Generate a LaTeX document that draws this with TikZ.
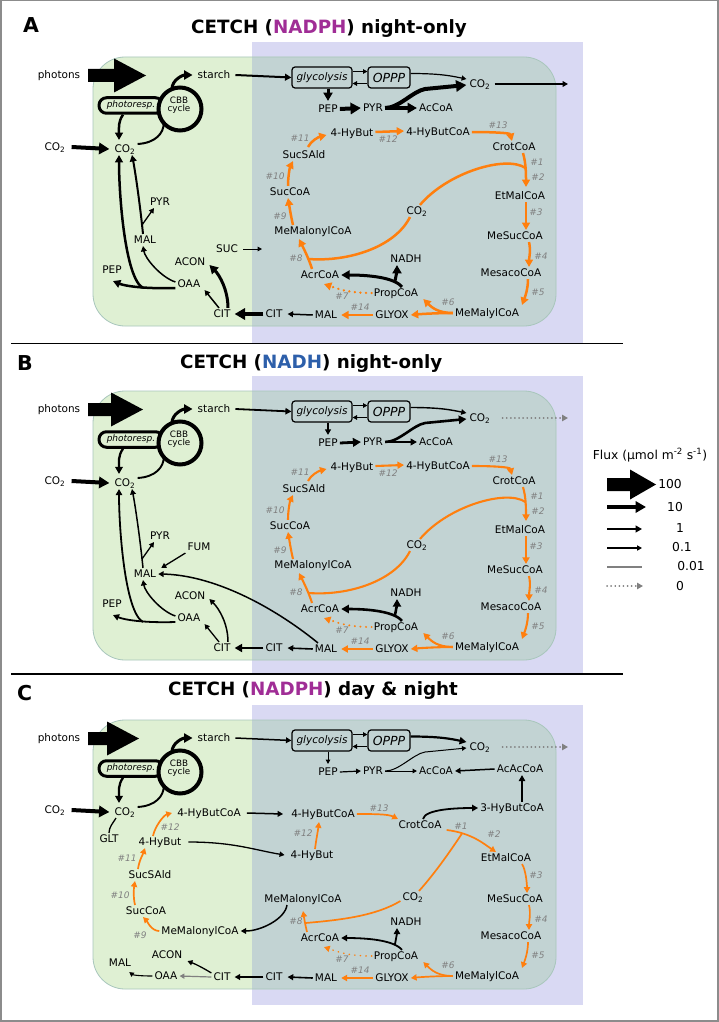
\documentclass[tikz,border=0pt]{standalone}
\usepackage{fontspec}
\setmainfont{DejaVu Sans}
\usetikzlibrary{arrows.meta}
\definecolor{bluebg}{RGB}{217,217,243}
\definecolor{greenbg}{RGB}{223,240,211}
\definecolor{overlapbg}{RGB}{194,211,211}
\definecolor{boxline}{RGB}{168,198,188}
\definecolor{orng}{RGB}{255,127,14}
\definecolor{labgray}{RGB}{128,128,128}
\definecolor{nadphc}{RGB}{160,45,150}
\definecolor{nadhc}{RGB}{45,95,170}
\definecolor{framec}{RGB}{140,140,140}
\tikzset{
 >={Triangle[length=2.4pt 2,width=2.4pt 2.2]},
 nd/.style={font=\fontsize{10.5}{12}\selectfont, inner sep=2pt, text height=7.7pt, text depth=0pt},
 lb/.style={font=\fontsize{9}{10}\selectfont\itshape, text=labgray, inner sep=0pt},
 orr/.style={draw=orng, line width=2.5, ->},
 g001/.style={draw=labgray, line width=1.2},
 zero/.style={draw=labgray, line width=1.8, line cap=round, dash pattern=on 0.1pt off 4pt},
 ttl/.style={anchor=base west, inner sep=0pt, font=\fontsize{18.3}{20}\selectfont\bfseries},
 plet/.style={anchor=base west, inner sep=0pt, font=\fontsize{20.5}{22}\selectfont\bfseries},
 leg/.style={font=\fontsize{12.3}{14}\selectfont, inner sep=0pt}
}
\newcommand\panelbg[1]{%
 \fill[bluebg] (252,42) rectangle (583,#1);
 \fill[greenbg, rounded corners=32] (93,57) rectangle (556,326);
 \begin{scope}
  \clip (252,42) rectangle (583,#1);
  \fill[overlapbg, rounded corners=32] (93,57) rectangle (556,326);
 \end{scope}
 \draw[boxline, line width=0.8, rounded corners=32] (93,57) rectangle (556,326);
}
\newcommand\photonarrow[1]{\fill (88,69) -- (#1-32,69) -- (#1-32,58.5) -- (#1,75.5) -- (#1-32,92.5) -- (#1-32,82) -- (88,82) -- cycle;}
\newcommand\commonpart{%
 \node[nd] (photons) at (59,75) {photons};
 \node[nd] (starch) at (214,75) {starch};
 \node[nd] (CO2L) at (55,147) {CO\textsubscript{2}};
 \node[nd] (CO2i) at (125,149) {CO\textsubscript{2}};
 \node[draw, line width=3, rounded corners=7.5, minimum width=64, minimum height=15.5, inner sep=0pt, font=\fontsize{9}{10}\selectfont\itshape] (photo) at (131,105.5) {photoresp.};
 \node[circle, draw, line width=4, fill=greenbg, minimum size=43, inner sep=0pt, outer sep=0pt] (cbb) at (180,109) {};
 \node[font=\fontsize{8.8}{8}\selectfont, align=center, inner sep=0pt] (cbbt) at (179,105) {CBB\\cycle};
 \node[draw, line width=1.2, rounded corners=3, minimum width=60, minimum height=21, inner sep=0pt, font=\fontsize{10.5}{12}\selectfont\itshape] (glyc) at (322,77.5) {glycolysis};
 \node[draw, line width=1.2, rounded corners=3, minimum width=42, minimum height=21, inner sep=0pt, font=\fontsize{12.5}{14}\selectfont\itshape] (OPPP) at (389,77.5) {OPPP};
 \node[nd] (CO2t) at (480,84) {CO\textsubscript{2}};
 \coordinate (outc) at (568,84);
 \node[nd] (PEP) at (328,109) {PEP};
 \node[nd] (PYR) at (373,108) {PYR};
 \node[nd] (AcCoA) at (436,108) {AcCoA};
 \node[nd] (MeSuc) at (515,236) {MeSucCoA};
 \node[nd] (Mesaco) at (511,273) {MesacoCoA};
 \node[nd] (MeMalyl) at (487,313) {MeMalylCoA};
 \node[nd] (PropCoA) at (396,293) {PropCoA};
 \node[nd] (NADH) at (406,259) {NADH};
 \node[nd] (GLYOX) at (392,315) {GLYOX};
 \node[nd] (MALr) at (326,315) {MAL};
 \node[nd] (CITr) at (274,314) {CIT};
 \node[nd] (CITl) at (222,314) {CIT};
 \node[nd] (AcrCoA) at (320,275) {AcrCoA};
 \node[lb] (l3) at (536,212) {\#3};
 \node[lb] (l4) at (541,256) {\#4};
 \node[lb] (l5) at (538,292) {\#5};
 \node[lb] (l6) at (448,302) {\#6};
 \node[lb] (l7) at (342,296) {\#7};
 \node[lb] (l8) at (296,258) {\#8};
 \node[lb] (l14) at (360,307) {\#14};
 \draw[eCOin,->] ([shift={(4,0)}]CO2L.east) -- ([shift={(-3,0)}]CO2i.west);
 \draw[ePhoto,->] ([shift={(-8,0)}]photo.south) .. controls +(-5,7) and +(0,-12) .. ([shift={(-6,-3)}]CO2i.north);
 \draw[eCbbIn] ([shift={(0,-5)}]CO2i.east) .. controls +(18,-1) and +(0,10) .. (cbb.221);
 \draw[eStarch,->] (cbb.112) .. controls +(0,-9) and +(-10,0) .. ([shift={(-3,0)}]starch.west);
 \draw[eGly,->] ([shift={(3,0)}]starch.east) -- (glyc.west);
 \draw[eOP,->] ([shift={(0,-6)}]glyc.east) -- ([shift={(0,-6)}]OPPP.west);
 \draw[eOP,->] ([shift={(0,6)}]OPPP.west) -- ([shift={(0,6)}]glyc.east);
 \draw[eOPPP,->] ([shift={(0,-4)}]OPPP.east) .. controls +(30,0) and +(-15,-3) .. ([shift={(-1,-5)}]CO2t.west);
 \draw[eOut] ([shift={(2,0)}]CO2t.east) -- (outc);
 \draw[eGP,->] ([shift={(6,0)}]glyc.south) -- ([shift={(0,-2)}]PEP.north);
 \draw[ePP,->] (PEP.east) -- (PYR.west);
 \draw[ePA,->] (PYR.east) -- (AcCoA.west);
 \draw[ePC,->] (PYR.east) .. controls +(14,0) and +(-12,2) .. ++(40,-19) -- ([shift={(-1,1)}]CO2t.west);
 \draw[orr] ([shift={(14,0)}]MeSuc.south) .. controls +(2,8) and +(0,-8) .. ([shift={(18,0)}]Mesaco.north);
 \draw[orr] ([shift={(17,0)}]Mesaco.south) .. controls +(0,10) and +(3,-8) .. ([shift={(35,-2)}]MeMalyl.north);
 \draw[orr] (MeMalyl.west) .. controls +(-15,0) and +(8,8) .. ([shift={(3,0)}]PropCoA.south east);
 \draw[orr] (MeMalyl.west) .. controls +(-15,0) and +(10,-1) .. (GLYOX.east);
 \draw[orr] (GLYOX.west) -- ([shift={(2,0)}]MALr.east);
 \draw[orr, line cap=round, dash pattern=on 0.1pt off 5.5pt] (PropCoA.west) .. controls +(-25,0) and +(12,4) .. ([shift={(4,3)}]AcrCoA.south);
 \draw[eProp,->] ([shift={(6,0)}]PropCoA.north) .. controls +(-8,-10) and +(25,0) .. (AcrCoA.east);
 \coordinate (j7) at (395,281);
 \draw[eProp,->] (j7) .. controls +(1,-5) and +(0,5) .. ([shift={(-9,0)}]NADH.south);
 \draw[eMC,->] (MALr.west) -- ([shift={(3,0)}]CITr.east);
 \draw[eCC,->] (CITr.west) -- ([shift={(2,0)}]CITl.east);
}
\newcommand\rightAB{%
 \node[nd] (HyBut) at (352,133) {4-HyBut};
 \node[nd] (HyButCoA) at (438,132) {4-HyButCoA};
 \node[nd] (SucSAld) at (304,155) {SucSAld};
 \node[nd] (SucCoA) at (290,192) {SucCoA};
 \node[nd] (MeMal) at (313,231) {MeMalonylCoA};
 \node[nd] (CrotCoA) at (514,147) {CrotCoA};
 \node[nd] (EtMal) at (520,196) {EtMalCoA};
 \node[nd] (CO2m) at (417,211) {CO\textsubscript{2}};
 \node[lb] (l11) at (300,138) {\#11};
 \node[lb] (l12) at (388,139) {\#12};
 \node[lb] (l13) at (498,125) {\#13};
 \node[lb] (l1) at (537,162) {\#1};
 \node[lb] (l2) at (538,177) {\#2};
 \node[lb] (l9) at (280,216) {\#9};
 \node[lb] (l10) at (275,176) {\#10};
 \draw[orr] ([shift={(4,-2)}]SucSAld.north) .. controls +(3,-6) and +(-8,2) .. ([shift={(-2,2)}]HyBut.west);
 \draw[orr] ([shift={(0,-1)}]HyBut.east) -- ([shift={(0,-1)}]HyButCoA.west);
 \draw[orr] (HyButCoA.east) .. controls +(20,0) and +(-2,-8) .. ([shift={(-2,0)}]CrotCoA.north);
 \draw[orr] ([shift={(9,0)}]CrotCoA.south) .. controls +(3,10) and +(0,-12) .. ([shift={(6,-3)}]EtMal.north);
 \coordinate (j1) at (525.5,168);
 \draw[orr,-] ([shift={(3,0)}]CO2m.north) .. controls +(28,-33) and +(-19,-13) .. (j1);
 \draw[orr] ([shift={(6,0)}]EtMal.south) -- ([shift={(11,0)}]MeSuc.north);
 \draw[orr] ([shift={(-8,0)}]AcrCoA.north) .. controls +(-3,-10) and +(4,8) .. ([shift={(-14,2)}]MeMal.south);
 \coordinate (j8) at (308.5,259);
 \draw[orr,-] ([shift={(-7,0)}]CO2m.south) .. controls +(-15,30) and +(40,3) .. (j8);
 \draw[orr] ([shift={(-20,0)}]MeMal.north) .. controls +(-2,-8) and +(1,6) .. ([shift={(-2,0)}]SucCoA.south);
 \draw[orr] ([shift={(-2,0)}]SucCoA.north) .. controls +(0,-10) and +(-3,6) .. ([shift={(-11,0)}]SucSAld.south);
}
\newcommand\leftAB{%
 \node[nd] (PYRl) at (160,202) {PYR};
 \node[nd] (MALl) at (145,240) {MAL};
 \node[nd] (PEPl) at (112,270) {PEP};
 \node[nd] (OAA) at (189,284) {OAA};
 \node[nd] (ACON) at (190,262) {ACON};
 \draw[eCA,->] ([shift={(6,0)}]CITl.north) .. controls +(0,-18) and +(10,10) .. ([shift={(2,3)}]ACON.east);
 \draw[eCO,->] ([shift={(-3,0)}]CITl.north) -- ([shift={(2,0)}]OAA.south east);
 \draw[eOM,->] ([shift={(0,-2)}]OAA.west) .. controls +(-15,-5) and +(2,12) .. ([shift={(-2,0)}]MALl.south);
 \draw[eOPep,->] ([shift={(0,4)}]OAA.west) .. controls +(-30,1) and +(12,5) .. ([shift={(1,5)}]PEPl.south);
 \coordinate (j2) at (143,288);
 \draw[eJC,->] (j2) .. controls +(-18,-10) and +(0,40) .. ([shift={(-6,0)}]CO2i.south);
 \draw[eMCO,->] ([shift={(-2,0)}]MALl.north) .. controls +(-3,-30) and +(3,15) .. ([shift={(7,0)}]CO2i.south);
 \coordinate (j3) at (142,225);
 \draw[eMP,->] (j3) -- ([shift={(-6,0)}]PYRl.south);
}
\begin{document}
\begin{tikzpicture}[x=1pt,y=-1pt]
\useasboundingbox (0,0) rectangle (719,1022);
\fill[white] (0,0) rectangle (719,1022);
% ---------------- Panel A
\begin{scope}[shift={(0,0)},
 eCOin/.style={line width=4}, ePhoto/.style={line width=2.5}, eCbbIn/.style={line width=2}, eStarch/.style={line width=3},
 eGly/.style={line width=2}, eOP/.style={line width=1}, eOPPP/.style={line width=1.2}, eOut/.style={line width=1.5,->},
 eGP/.style={line width=3}, ePP/.style={line width=4}, ePA/.style={line width=3.5}, ePC/.style={line width=4},
 orr/.style={draw=orng,line width=2.5,->}, eProp/.style={line width=3}, eMC/.style={line width=1.5}, eCC/.style={line width=4},
 eOPep/.style={line width=2.5}, eJC/.style={line width=2.5}, eMCO/.style={line width=2}, eMP/.style={line width=1.3},
 eOM/.style={line width=1.5}, eCA/.style={line width=3}, eCO/.style={line width=1.5}]
 \panelbg{343}
 \photonarrow{146}
 \commonpart
 \rightAB
 \leftAB
 \node[nd] (SUC) at (227,249) {SUC};
 \coordinate (sucout) at (262,249);
 \draw[line width=1,->] ([shift={(3,0)}]SUC.east) -- (sucout);
\end{scope}
% ---------------- Panel B
\begin{scope}[shift={(0,334)},
 eCOin/.style={line width=4}, ePhoto/.style={line width=2.3}, eCbbIn/.style={line width=1.9}, eStarch/.style={line width=3},
 eGly/.style={line width=1.8}, eOP/.style={line width=1}, eOPPP/.style={line width=1.4}, eOut/.style={zero,->,shorten <=8pt},
 eGP/.style={line width=1.6}, ePP/.style={line width=2.8}, ePA/.style={line width=2}, ePC/.style={line width=2.6},
 orr/.style={draw=orng,line width=2.1,->}, eProp/.style={line width=2.6}, eMC/.style={line width=1.6}, eCC/.style={line width=2.6},
 eOPep/.style={line width=1.8}, eJC/.style={line width=1.8}, eMCO/.style={line width=1.5}, eMP/.style={line width=1.3},
 eOM/.style={line width=1.5}, eCA/.style={line width=1.5}, eCO/.style={line width=1.3}]
 \panelbg{339.5}
 \photonarrow{143}
 \commonpart
 \rightAB
 \leftAB
 \node[nd] (FUM) at (199,213) {FUM};
 \draw[line width=1.3,->] (FUM.south west) -- ([shift={(3,0)}]MALl.north east);
 \draw[line width=1.5,->] ([shift={(-8,0)}]MALr.north) .. controls +(-48,-39) and +(53,1) .. (MALl.east);
\end{scope}
% ---------------- Panel C
\begin{scope}[shift={(0,663)},
 eCOin/.style={line width=4}, ePhoto/.style={line width=2.3}, eCbbIn/.style={line width=1.9}, eStarch/.style={line width=3},
 eGly/.style={line width=1.5}, eOP/.style={line width=1}, eOPPP/.style={line width=2.2}, eOut/.style={zero,->,shorten <=8pt},
 eGP/.style={line width=1}, ePP/.style={line width=1.2}, ePA/.style={line width=1}, ePC/.style={line width=1},
 orr/.style={draw=orng,line width=1.7,->}, eProp/.style={line width=1.8}, eMC/.style={line width=1.6}, eCC/.style={line width=1.6}]
 \panelbg{342}
 \photonarrow{139}
 \commonpart
 \node[nd] (GLT) at (109,176) {GLT};
 \node[nd] (HBCL) at (209,150) {4-HyButCoA};
 \node[nd] (HBL) at (160,179) {4-HyBut};
 \node[nd] (SucSAld) at (150,212) {SucSAld};
 \node[nd] (SucCoA) at (146,248) {SucCoA};
 \node[nd] (MeMalL) at (200,268) {MeMalonylCoA};
 \node[nd] (MALfl) at (120,300) {MAL};
 \node[nd] (ACON) at (167,292) {ACON};
 \node[nd] (OAA) at (166,313) {OAA};
 \node[nd] (HBCR) at (323,151) {4-HyButCoA};
 \node[nd] (HBR) at (312,192) {4-HyBut};
 \node[nd] (MeMalR) at (303,236) {MeMalonylCoA};
 \node[nd] (CrotCoA) at (420,162) {CrotCoA};
 \node[nd] (HBC3) at (512,145) {3-HyButCoA};
 \node[nd] (AcAc) at (520,106) {AcAcCoA};
 \node[nd] (EtMal) at (506,195) {EtMalCoA};
 \node[nd] (CO2m) at (413,234) {CO\textsubscript{2}};
 \node[lb] (l12a) at (170,164) {\#12};
 \node[lb] (l11) at (127,195) {\#11};
 \node[lb] (l10) at (120,232) {\#10};
 \node[lb] (l9) at (140,272) {\#9};
 \node[lb] (l12b) at (303,170) {\#12};
 \node[lb] (l13) at (379,145) {\#13};
 \node[lb] (l1) at (461,163) {\#1};
 \node[lb] (l2) at (494,171) {\#2};
 \draw[line width=1.3] (GLT.north) .. controls +(0,-6) and +(-3,5) .. ([shift={(-9,0)}]CO2i.south);
 \draw[orr] ([shift={(-7,0)}]HBL.north) .. controls +(2,-10) and +(-8,2) .. ([shift={(-3,0)}]HBCL.west);
 \draw[orr] ([shift={(-12,0)}]SucSAld.north) .. controls +(1,-8) and +(-2,6) .. ([shift={(-15,0)}]HBL.south);
 \draw[orr] ([shift={(-11,0)}]SucCoA.north) .. controls +(-2,-8) and +(-1,6) .. ([shift={(-15,0)}]SucSAld.south);
 \draw[orr] (MeMalL.west) .. controls +(-8,0) and +(4,4) .. ([shift={(-3,0)}]SucCoA.south);
 \draw[line width=1.5,->] ([shift={(4,0)}]HBCL.east) -- ([shift={(-6,0)}]HBCR.west);
 \draw[line width=1.3,->] ([shift={(5,0)}]HBL.east) .. controls +(45,0) and +(-30,-5) .. ([shift={(-4,0)}]HBR.west);
 \draw[orr] ([shift={(3,0)}]HBR.north) .. controls +(1,-8) and +(-1,8) .. ([shift={(-4,2)}]HBCR.south);
 \draw[line width=1.5,->] ([shift={(-16,0)}]MeMalR.south) .. controls +(-2,14) and +(20,0) .. (MeMalL.east);
 \draw[orr] ([shift={(-13,0)}]AcrCoA.north) .. controls +(-2,-8) and +(1,6) .. ([shift={(0,6)}]MeMalR.south);
 \coordinate (j8c) at (305.5,260);
 \draw[orr,-] ([shift={(0,4)}]CO2m.west) .. controls +(-25,15) and +(35,-3) .. (j8c);
 \draw[line width=1.3,->] ([shift={(0,2)}]CITl.north west) .. controls +(-10,-6) and +(8,3) .. ([shift={(3,0)}]ACON.south east);
 \draw[line width=1.1,->] (OAA.west) .. controls +(-12,0) and +(4,3) .. ([shift={(-4,3)}]MALfl.south east);
 \draw[g001,->] (CITl.west) -- (OAA.east);
 \draw[orr] (HBCR.east) .. controls +(15,0) and +(-10,-5) .. ([shift={(-22,0)}]CrotCoA.north);
 \draw[line width=1.8,->] ([shift={(3,0)}]CrotCoA.north) .. controls +(2,-10) and +(-20,0) .. (HBC3.west);
 \draw[line width=1.8,->] ([shift={(10,0)}]HBC3.north) -- ([shift={(2,0)}]AcAc.south);
 \draw[line width=1.5,->] (AcAc.west) -- (AcCoA.east);
 \draw[orr] ([shift={(3,5)}]CrotCoA.east) .. controls +(25,3) and +(-12,-8) .. ([shift={(-10,0)}]EtMal.north);
 \coordinate (jC1) at (462,170.5);
 \draw[orr,-] ([shift={(6,0)}]CO2m.north) .. controls +(18,-20) and +(-8,12) .. (jC1);
 \draw[orr] ([shift={(16,0)}]EtMal.south) .. controls +(4,6) and +(0,-8) .. ([shift={(12,0)}]MeSuc.north);
\end{scope}
% ---------------- separators, titles, frame
\draw[line width=1.5] (11,343.5) -- (623,343.5);
\draw[line width=1.5] (11,674) -- (623,674);
\node[plet] (pA) at (23,33) {A};
\node[plet] (pB) at (17,370) {B};
\node[plet] (pC) at (17,700) {C};
\node[ttl] (tA) at (191,34) {CETCH (\textcolor{nadphc}{NADPH}) night-only};
\node[ttl] (tB) at (180,368) {CETCH (\textcolor{nadhc}{NADH}) night-only};
\node[ttl] (tC) at (168,695) {CETCH (\textcolor{nadphc}{NADPH}) day \& night};
% ---------------- legend
\node[leg] (fluxt) at (650,455) {Flux (µmol m\textsuperscript{-2} s\textsuperscript{-1})};
\fill (607,478) -- (630,478) -- (630,469.5) -- (656,484.5) -- (630,499.5) -- (630,491) -- (607,491) -- cycle;
\node[leg] (v100) at (670,484) {100};
\coordinate (g10a) at (607,507); \coordinate (g10b) at (646,507);
\draw[line width=4,->] (g10a) -- (g10b);
\node[leg] (v10) at (675,507) {10};
\coordinate (g1a) at (607,529); \coordinate (g1b) at (642,529);
\draw[line width=2,->] (g1a) -- (g1b);
\node[leg] (v1) at (680,528) {1};
\coordinate (g01a) at (607,548); \coordinate (g01b) at (642,548);
\draw[line width=1.2,->] (g01a) -- (g01b);
\node[leg] (v01) at (682,547) {0.1};
\coordinate (g001a) at (607,567); \coordinate (g001b) at (642,567);
\draw[g001] (g001a) -- (g001b);
\node[leg] (v001) at (691,566) {0.01};
\coordinate (g0a) at (607,586); \coordinate (g0b) at (643,586);
\draw[zero,->] (g0a) -- (g0b);
\node[leg] (v0) at (680,586) {0};
\draw[framec, line width=1.5] (0.75,0.75) rectangle (717.75,1020.75);
\end{tikzpicture}
\end{document}
